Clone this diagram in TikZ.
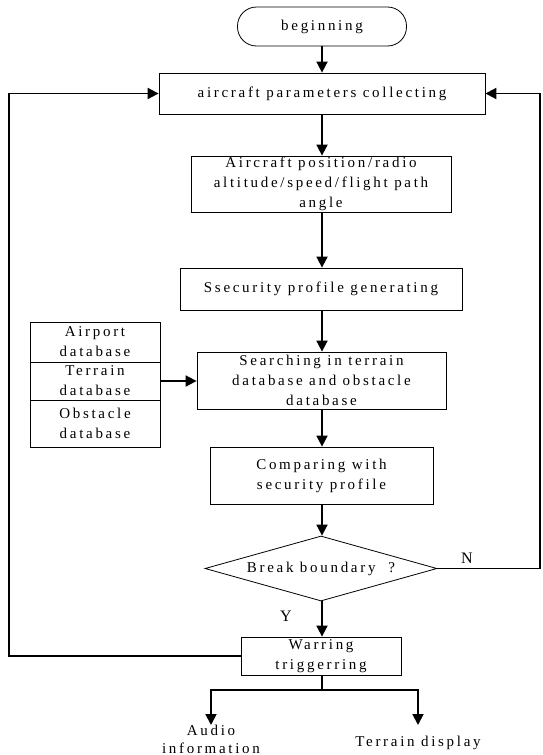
\documentclass[tikz,border=0pt]{standalone}
\usepackage{fontspec}
\setmainfont{Liberation Serif}[LetterSpace=18]
\newfontfamily\plainfont{Liberation Serif}
\usetikzlibrary{arrows.meta,shapes.geometric}
\begin{document}
\begin{tikzpicture}[x=1pt,y=-1pt,
  box/.style={draw,line width=0.8pt,inner sep=0pt,align=center,font=\fontsize{15}{20}\selectfont},
  lbl/.style={inner sep=0pt,align=center,font=\fontsize{15}{17.5}\selectfont},
  conn/.style={line width=1.8pt,-{Triangle[length=11pt,width=11pt]}},
  wire/.style={line width=1.8pt}]
\useasboundingbox (0,0) rectangle (543,755);
\node[box,rounded corners=19pt,minimum width=169,minimum height=39] (begin) at (322,26.5) {beginning};
\node[box,minimum width=326,minimum height=41] (params) at (322,93.5) {aircraft parameters collecting};
\node[box,minimum width=260,minimum height=56] (acpos) at (321,184) {Aircraft position/radio\\altitude/speed/flight path\\angle};
\node[box,minimum width=282,minimum height=42] (ssec) at (321,289) {Ssecurity profile generating};
\node[box,minimum width=249,minimum height=57] (search) at (321.5,380.5) {Searching in terrain\\database and obstacle\\database};
\node[box,minimum width=130,minimum height=40] (airport) at (95,342) {Airport\\database};
\node[box,minimum width=130,minimum height=38] (terrain) at (95,381) {Terrain\\database};
\node[box,minimum width=130,minimum height=47] (obstacle) at (95,423.5) {Obstacle\\database};
\node[box,minimum width=223,minimum height=57] (compare) at (321.5,475.5) {Comparing with\\security profile};
\node[draw,line width=0.8pt,diamond,minimum width=232,minimum height=65,inner sep=0pt] (dec) at (321,568.5) {};
\node[font=\fontsize{15}{20}\selectfont] (dectext) at (dec.center) {Break boundary\ \ ?};
\node[box,minimum width=160,minimum height=38] (warn) at (321,656) {Warring\\triggerring};
\node[lbl,anchor=base] (audio) at (211,753) {Audio\\information};
\node[lbl,anchor=base] (tdisp) at (418,746) {Terrain display};
\coordinate (a1) at (211,725);
\coordinate (a2) at (418,725);
\coordinate (split) at (322,690);
\coordinate (rr) at (540,568.5);
\coordinate (ll) at (9,656);
\draw[conn] (begin) -- (params);
\draw[conn] (params) -- (params|-acpos.north);
\draw[conn] (acpos.south-|params) -- (params|-ssec.north);
\draw[conn] (ssec.south-|params) -- (params|-search.north);
\draw[conn] (search.south-|params) -- (params|-compare.north);
\draw[conn] (compare.south-|params) -- (params|-dec.north);
\draw[conn] (dec.south-|params) -- (params|-warn.north);
\draw[conn] (terrain.east) -- (search.west |- terrain.east);
\draw[conn] (dec.east) -- (rr) |- (params.east);
\draw[conn] (warn.west) -- (ll) |- (params.west);
\draw[wire] (warn.south-|params) -- (split);
\draw[conn] (split) -| (a1);
\draw[conn] (split) -| (a2);
\node[font=\plainfont\fontsize{16}{16}\selectfont] (nlab) at (467,558) {N};
\node[font=\plainfont\fontsize{16}{16}\selectfont] (ylab) at (286,616) {Y};
\end{tikzpicture}
\end{document}
